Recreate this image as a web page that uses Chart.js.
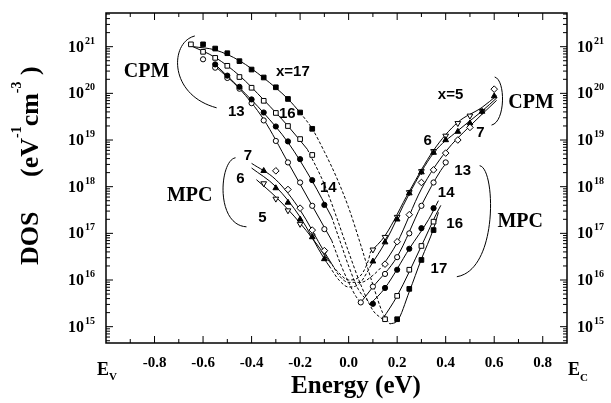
<!DOCTYPE html>
<html>
<head>
<meta charset="utf-8">
<script src="https://cdn.jsdelivr.net/npm/chart.js@4.4.0/dist/chart.umd.min.js"></script>
<style>body{margin:0;background:#fff}</style>
</head>
<body>
<canvas id="dos" width="611" height="403"></canvas>
<script>
// points are [energy (eV), log10 DOS]

// valence side (left), CPM
const v17 = [[-0.60,21.05],[-0.55,20.96],[-0.50,20.86],[-0.45,20.69],[-0.40,20.51],[-0.35,20.34],[-0.30,20.13],[-0.25,19.88],[-0.20,19.59],[-0.15,19.24]];
const v16 = [[-0.65,21.05],[-0.60,20.89],[-0.55,20.76],[-0.50,20.59],[-0.45,20.35],[-0.40,20.12],[-0.35,19.84],[-0.30,19.58],[-0.25,19.30],[-0.20,19.02],[-0.15,18.68]];
const v14 = [[-0.55,20.62],[-0.50,20.38],[-0.45,20.14],[-0.40,19.87],[-0.35,19.59],[-0.30,19.29],[-0.25,18.97],[-0.20,18.59],[-0.15,18.14],[-0.10,17.61]];
const v13 = [[-0.60,20.73],[-0.55,20.55],[-0.50,20.33],[-0.45,20.10],[-0.40,19.79],[-0.35,19.42],[-0.30,18.98],[-0.25,18.52],[-0.20,18.09],[-0.15,17.59],[-0.10,17.09]];
// valence side, MPC
const v7 = [[-0.30,18.34],[-0.25,17.94],[-0.20,17.54],[-0.15,17.07],[-0.10,16.63]];
const v6 = [[-0.35,18.34],[-0.30,17.97],[-0.25,17.66],[-0.20,17.30],[-0.15,16.92],[-0.10,16.45]];
const v5 = [[-0.35,18.07],[-0.30,17.74],[-0.25,17.49],[-0.20,17.20],[-0.15,16.95],[-0.10,16.60]];
// conduction side (right)
const c5 = [[0.10,16.65],[0.15,16.92],[0.20,17.35],[0.25,17.88],[0.30,18.33],[0.35,18.76],[0.40,19.09],[0.45,19.36],[0.50,19.52],[0.55,19.62]];
const c6 = [[0.10,16.40],[0.15,16.81],[0.20,17.30],[0.25,17.86],[0.30,18.31],[0.35,18.73],[0.40,19.00],[0.45,19.18],[0.50,19.36],[0.55,19.61],[0.60,19.94]];
const c7 = [[0.15,16.34],[0.20,16.82],[0.25,17.40],[0.30,18.09],[0.35,18.36],[0.40,18.72],[0.45,19.00],[0.50,19.27],[0.60,20.09]];
const c13 = [[0.05,15.52],[0.10,15.86],[0.15,16.13],[0.20,16.49],[0.25,17.00],[0.30,17.59],[0.35,18.09],[0.40,18.52]];
const c14 = [[0.10,15.49],[0.15,15.83],[0.20,16.22],[0.25,16.67],[0.30,17.11],[0.35,17.54]];
const c16 = [[0.15,15.16],[0.20,15.66],[0.25,16.22],[0.30,16.73],[0.35,17.25]];
const c17 = [[0.20,15.16],[0.25,15.81],[0.30,16.43],[0.35,17.07]];

// solid fit curves
const fitV17 = [[-0.64,21.00],[-0.55,20.93],[-0.45,20.70],[-0.35,20.33],[-0.25,19.88],[-0.20,19.59]];
const fitV16 = [[-0.65,21.02],[-0.55,20.77],[-0.45,20.38],[-0.35,19.86],[-0.25,19.30],[-0.17,18.80]];
const fitV14 = [[-0.55,20.62],[-0.45,20.12],[-0.35,19.58],[-0.25,18.95],[-0.15,18.12],[-0.07,17.35]];
const fitV13 = [[-0.55,20.58],[-0.45,20.10],[-0.35,19.44],[-0.25,18.52],[-0.15,17.59],[-0.07,16.85]];
const fitV7 = [[-0.40,18.50],[-0.30,18.15],[-0.20,17.50],[-0.10,16.60],[-0.07,16.35]];
const fitV6 = [[-0.40,18.40],[-0.30,18.00],[-0.20,17.35],[-0.10,16.45],[-0.08,16.30]];
const fitV5 = [[-0.38,18.15],[-0.30,17.78],[-0.20,17.22],[-0.10,16.55],[-0.08,16.40]];
const fitC5 = [[0.09,16.60],[0.15,16.95],[0.25,17.90],[0.35,18.78],[0.45,19.38],[0.55,19.70],[0.61,19.95]];
const fitC6 = [[0.09,16.30],[0.15,16.80],[0.25,17.85],[0.35,18.72],[0.45,19.20],[0.55,19.62],[0.61,19.90]];
const fitC7 = [[0.14,16.30],[0.20,16.80],[0.30,17.95],[0.40,18.75],[0.50,19.30],[0.61,19.85]];
const fitC13 = [[0.05,15.52],[0.10,15.85],[0.20,16.50],[0.30,17.60],[0.38,18.35],[0.41,18.55]];
const fitC14 = [[0.09,15.49],[0.15,15.83],[0.25,16.67],[0.33,17.30],[0.37,17.70]];
const fitC16 = [[0.14,15.16],[0.20,15.66],[0.30,16.73],[0.36,17.40],[0.38,17.60]];
const fitC17 = [[0.17,15.06],[0.20,15.12],[0.25,15.75],[0.30,16.45],[0.35,17.10],[0.37,17.45]];

// dashed curves across the gap
const gap17 = [[-0.20,19.59],[-0.15,19.24],[-0.10,18.75],[-0.05,18.20],[0.00,17.55],[0.05,16.75],[0.10,15.90],[0.14,15.30],[0.17,15.06]];
const gap16 = [[-0.17,18.80],[-0.10,18.05],[-0.05,17.35],[0.00,16.60],[0.05,15.90],[0.10,15.35],[0.14,15.16]];
const gap14 = [[-0.07,17.35],[-0.03,16.75],[0.00,16.30],[0.04,15.80],[0.09,15.49]];
const gap13 = [[-0.07,16.85],[-0.03,16.30],[0.00,15.95],[0.03,15.65],[0.05,15.52]];
const gap7 = [[-0.07,16.35],[-0.04,16.10],[0.00,15.95],[0.05,15.95],[0.10,16.10],[0.14,16.30]];
const gap6 = [[-0.08,16.30],[-0.04,16.00],[0.00,15.85],[0.04,15.90],[0.08,16.20],[0.09,16.30]];
const gap5 = [[-0.08,16.40],[-0.04,16.15],[0.00,16.00],[0.04,16.05],[0.08,16.40],[0.09,16.60]];

// axes
const xTickValues = [-0.8, -0.6, -0.4, -0.2, 0.0, 0.2, 0.4, 0.6, 0.8];
const xTickLabels = ['-0.8', '-0.6', '-0.4', '-0.2', '0.0', '0.2', '0.4', '0.6', '0.8'];
const xMinorTicks = [-0.9, -0.7, -0.5, -0.3, -0.1, 0.1, 0.3, 0.5, 0.7];
const yDecades = [15, 16, 17, 18, 19, 20, 21];

// annotations: [text, energy, log10 DOS, font]
const SERIF = '"Liberation Serif", "Times New Roman", serif';
const SANS = '"Liberation Sans", Arial, sans-serif';
const labels = [
  ['CPM', -0.833, 20.46, 'bold 20px ' + SERIF],
  ['x=17', -0.23, 20.45, 'bold 15px ' + SANS],
  ['13', -0.463, 19.60, 'bold 15px ' + SANS],
  ['16', -0.253, 19.57, 'bold 15px ' + SANS],
  ['14', -0.084, 17.98, 'bold 15px ' + SANS],
  ['7', -0.415, 18.66, 'bold 15px ' + SANS],
  ['6', -0.446, 18.16, 'bold 15px ' + SANS],
  ['5', -0.355, 17.34, 'bold 15px ' + SANS],
  ['MPC', -0.655, 17.80, 'bold 20px ' + SERIF],
  ['x=5', 0.42, 19.97, 'bold 15px ' + SANS],
  ['6', 0.326, 18.98, 'bold 15px ' + SANS],
  ['7', 0.543, 19.15, 'bold 15px ' + SANS],
  ['CPM', 0.752, 19.79, 'bold 20px ' + SERIF],
  ['13', 0.47, 18.34, 'bold 15px ' + SANS],
  ['14', 0.402, 17.86, 'bold 15px ' + SANS],
  ['16', 0.437, 17.21, 'bold 15px ' + SANS],
  ['17', 0.372, 16.24, 'bold 15px ' + SANS],
  ['MPC', 0.707, 17.24, 'bold 20px ' + SERIF]
];
// bracket curves: start, control 1, control 2, end
const brackets = [
  [[-0.634,21.23],[-0.737,21.10],[-0.745,19.97],[-0.544,19.69]],
  [[-0.466,18.62],[-0.532,18.57],[-0.552,17.18],[-0.421,17.14]],
  [[0.602,20.35],[0.647,20.29],[0.647,19.39],[0.589,19.32]],
  [[0.540,18.45],[0.606,18.40],[0.618,16.22],[0.446,16.07]]
];

const toXY = pts => pts.map(([e, l]) => ({ x: e, y: Math.pow(10, l) }));

function markers(pts, style, filled, rot) {
  return {
    data: toXY(pts),
    showLine: false,
    pointStyle: style,
    pointRotation: rot || 0,
    pointRadius: style === 'circle' ? 2.6 : 3.3,
    pointBackgroundColor: filled ? '#000' : '#fff',
    pointBorderColor: '#000',
    pointBorderWidth: 1,
    order: 1
  };
}

function curve(pts, dashed) {
  return {
    data: toXY(pts),
    showLine: true,
    pointRadius: 0,
    borderColor: '#000',
    borderWidth: 1,
    borderDash: dashed ? [3, 2] : [],
    cubicInterpolationMode: 'monotone',
    fill: false,
    order: 2
  };
}

const datasets = [
  markers(v17, 'rect', true), markers(v16, 'rect', false),
  markers(v14, 'circle', true), markers(v13, 'circle', false),
  markers(v7, 'rectRot', false), markers(v6, 'triangle', true), markers(v5, 'triangle', false, 180),
  markers(c17, 'rect', true), markers(c16, 'rect', false),
  markers(c14, 'circle', true), markers(c13, 'circle', false),
  markers(c7, 'rectRot', false), markers(c6, 'triangle', true), markers(c5, 'triangle', false, 180),
  curve(fitV17), curve(fitV16), curve(fitV14), curve(fitV13), curve(fitV7), curve(fitV6), curve(fitV5),
  curve(fitC17), curve(fitC16), curve(fitC14), curve(fitC13), curve(fitC7), curve(fitC6), curve(fitC5),
  curve(gap17, true), curve(gap16, true), curve(gap14, true), curve(gap13, true),
  curve(gap7, true), curve(gap6, true), curve(gap5, true)
];

const decorations = {
  id: 'decorations',
  afterDraw(chart) {
    const { ctx, chartArea: a, scales: { x, y } } = chart;
    const px = v => x.getPixelForValue(v);
    const py = l => y.getPixelForValue(Math.pow(10, l));
    ctx.save();
    ctx.strokeStyle = '#000';
    ctx.fillStyle = '#000';

    // frame
    ctx.lineWidth = 1.5;
    ctx.strokeRect(a.left, a.top, a.right - a.left, a.bottom - a.top);

    // inward ticks on all four sides
    ctx.lineWidth = 1;
    ctx.beginPath();
    const xTick = (v, len) => {
      const p = px(v);
      ctx.moveTo(p, a.bottom); ctx.lineTo(p, a.bottom - len);
      ctx.moveTo(p, a.top); ctx.lineTo(p, a.top + len);
    };
    xTickValues.forEach(v => xTick(v, 7));
    xMinorTicks.forEach(v => xTick(v, 4));
    const yTick = (val, len) => {
      const p = y.getPixelForValue(val);
      if (p < a.top || p > a.bottom) return;
      ctx.moveTo(a.left, p); ctx.lineTo(a.left + len, p);
      ctx.moveTo(a.right, p); ctx.lineTo(a.right - len, p);
    };
    for (let e = 14; e <= 21; e++) {
      for (let k = 1; k <= 9; k++) yTick(k * Math.pow(10, e), k === 1 ? 7 : 4);
    }
    ctx.stroke();

    // x tick labels
    ctx.font = 'bold 15px ' + SERIF;
    ctx.textAlign = 'center';
    ctx.textBaseline = 'alphabetic';
    xTickValues.forEach((v, i) => ctx.fillText(xTickLabels[i], px(v), a.bottom + 24));

    // y tick labels, both sides
    yDecades.forEach(e => {
      const p = py(e);
      ctx.font = 'bold 16px ' + SERIF;
      ctx.textAlign = 'right';
      ctx.fillText('10', a.left - 22, p + 5);
      ctx.textAlign = 'left';
      ctx.fillText('10', a.right + 10, p + 5);
      const w = ctx.measureText('10').width;
      ctx.font = 'bold 10px ' + SERIF;
      ctx.fillText(String(e), a.left - 21, p - 3);
      ctx.fillText(String(e), a.right + 11 + w, p - 3);
    });

    // E_V and E_C
    ctx.textAlign = 'left';
    ctx.font = 'bold 18px ' + SERIF;
    ctx.fillText('E', a.left - 9, a.bottom + 32);
    ctx.fillText('E', a.right + 1, a.bottom + 32);
    ctx.font = 'bold 11px ' + SERIF;
    ctx.fillText('V', a.left + 3, a.bottom + 37);
    ctx.fillText('C', a.right + 13, a.bottom + 38);

    // x title
    ctx.textAlign = 'center';
    ctx.font = 'bold 25px ' + SERIF;
    ctx.fillText('Energy (eV)', 356, a.bottom + 50);

    // y title, rotated
    ctx.save();
    ctx.translate(38, 265);
    ctx.rotate(-Math.PI / 2);
    ctx.textAlign = 'left';
    const big = 'bold 26px ' + SERIF, small = 'bold 14px ' + SERIF;
    let cx = 0;
    const put = (t, f, dy) => { ctx.font = f; ctx.fillText(t, cx, dy); cx += ctx.measureText(t).width; };
    put('DOS', big, 0);
    cx = 88;
    put('(eV', big, 0);
    put('-1', small, -17);
    put('cm', big, 0);
    put('-3', small, -17);
    put(' )', big, 0);
    ctx.restore();

    // annotation texts
    ctx.textAlign = 'center';
    ctx.textBaseline = 'middle';
    labels.forEach(([t, e, l, f]) => {
      ctx.font = f;
      ctx.fillText(t, px(e), py(l));
    });

    // brackets
    ctx.lineWidth = 1;
    brackets.forEach(b => {
      const q = b.map(([e, l]) => [px(e), py(l)]);
      ctx.beginPath();
      ctx.moveTo(q[0][0], q[0][1]);
      ctx.bezierCurveTo(q[1][0], q[1][1], q[2][0], q[2][1], q[3][0], q[3][1]);
      ctx.stroke();
    });
    ctx.restore();
  }
};

new Chart(document.getElementById('dos').getContext('2d'), {
  type: 'scatter',
  data: { datasets },
  options: {
    responsive: false,
    animation: false,
    layout: { padding: { left: 106, right: 44, top: 13, bottom: 60 } },
    plugins: { legend: { display: false }, tooltip: { enabled: false } },
    scales: {
      x: {
        type: 'linear', min: -1.0, max: 0.9,
        grid: { display: false, drawTicks: false },
        border: { display: false },
        ticks: { display: false }
      },
      y: {
        type: 'logarithmic', min: 4.47e14, max: 5.27e21,
        grid: { display: false, drawTicks: false },
        border: { display: false },
        ticks: { display: false }
      }
    }
  },
  plugins: [decorations]
});
</script>
</body>
</html>
